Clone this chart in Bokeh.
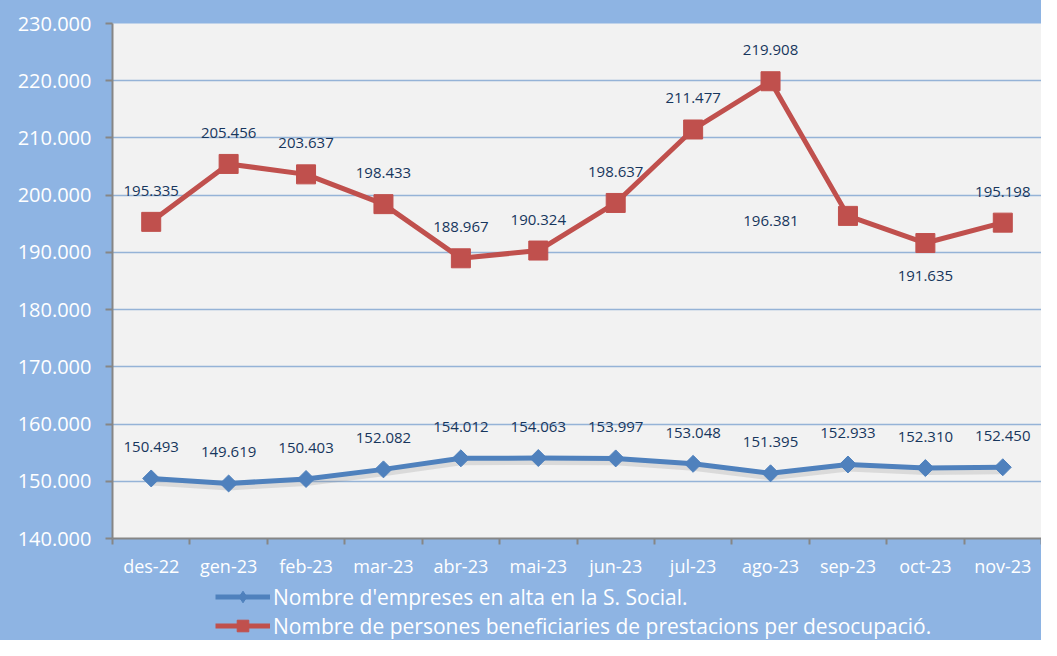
from bokeh.plotting import figure
from bokeh.layouts import column
from bokeh.models import ColumnDataSource, FixedTicker, Legend, LegendItem, Range1d
from bokeh.core.properties import value
from bokeh.embed import file_html
from bokeh.resources import INLINE
import math

# ---- data ----
months = ["des-22", "gen-23", "feb-23", "mar-23", "abr-23", "mai-23",
          "jun-23", "jul-23", "ago-23", "sep-23", "oct-23", "nov-23"]
empreses = [150493, 149619, 150403, 152082, 154012, 154063,
            153997, 153048, 151395, 152933, 152310, 152450]
beneficiaris = [195335, 205456, 203637, 198433, 188967, 190324,
                198637, 211477, 219908, 196381, 191635, 195198]
y_ticks = [140000, 150000, 160000, 170000, 180000, 190000,
           200000, 210000, 220000, 230000]
name_blue = "Nombre d'empreses en alta en la S. Social."
name_red = "Nombre de persones beneficiaries de prestacions per desocupació."

# ---- label placement (pixels, style only) ----
blue_dx = [0] * 12
blue_dy = [-31] * 12
red_dx = [0, 0, 0, 0, 0, 0, 0, 0, 0, -77, 0, 0]
red_dy = [-31, -31, -31, -31, -31, -31, -31, -31, -31, 5, 33, -31]


def fmt(v):
    return f"{v:,}".replace(",", ".")


FONT = "Open Sans"
BG = "#8EB4E3"
BLUE = "#4F81BD"
RED = "#C0504D"
LABEL = "#17365D"

xs = [i + 0.5 for i in range(len(months))]

blue_src = ColumnDataSource(dict(x=xs, y=empreses, lbl=[fmt(v) for v in empreses],
                                 dx=blue_dx, dy=blue_dy,
                                 ysh=[v - 600 for v in empreses]))
red_src = ColumnDataSource(dict(x=xs, y=beneficiaris, lbl=[fmt(v) for v in beneficiaris],
                                dx=red_dx, dy=red_dy))

p = figure(width=1041, height=582, output_backend="svg", toolbar_location=None,
           x_range=Range1d(0, len(months)), y_range=Range1d(140000, 230000),
           background_fill_color="#F2F2F2", border_fill_color=BG,
           min_border_left=112, min_border_top=23, min_border_bottom=44,
           min_border_right=0)
p.outline_line_color = None

# axes
p.yaxis.ticker = FixedTicker(ticks=y_ticks)
p.yaxis.major_label_overrides = {t: fmt(t) for t in y_ticks}
p.yaxis.major_label_text_color = "white"
p.yaxis.major_label_text_font = FONT
p.yaxis.major_label_text_font_size = "20px"
p.yaxis.major_label_standoff = 14
p.yaxis.major_tick_out = 7
p.yaxis.major_tick_in = 0
p.yaxis.minor_tick_out = 0
p.yaxis.minor_tick_in = 0
p.yaxis.axis_line_color = "#868686"
p.yaxis.axis_line_width = 2
p.yaxis.major_tick_line_color = "#868686"
p.yaxis.major_tick_line_width = 2

p.xaxis.ticker = FixedTicker(ticks=xs, minor_ticks=list(range(len(months) + 1)))
p.xaxis.major_label_overrides = {x: m for x, m in zip(xs, months)}
p.xaxis.major_label_text_color = "white"
p.xaxis.major_label_text_font = FONT
p.xaxis.major_label_text_font_size = "18px"
p.xaxis.major_label_standoff = 9
p.xaxis.major_tick_out = 0
p.xaxis.major_tick_in = 0
p.xaxis.minor_tick_out = 6
p.xaxis.minor_tick_in = 0
p.xaxis.minor_tick_line_color = "#868686"
p.xaxis.minor_tick_line_width = 2
p.xaxis.axis_line_color = "#868686"
p.xaxis.axis_line_width = 2

p.xgrid.grid_line_color = None
p.ygrid.grid_line_color = "#95B3D7"
p.ygrid.grid_line_width = 1.5

# blue series shadow
p.line("x", "ysh", source=blue_src, line_color="#7F7F7F", line_alpha=0.2,
       line_width=7, line_join="round")

# series
p.line("x", "y", source=blue_src, line_color=BLUE, line_width=5, line_join="round")
p.scatter("x", "y", source=blue_src, marker="square", size=12, angle=math.pi / 4,
          fill_color=BLUE, line_color=BLUE)
p.line("x", "y", source=red_src, line_color=RED, line_width=5, line_join="round")
p.scatter("x", "y", source=red_src, marker="square", size=19,
          fill_color=RED, line_color=RED)

# data labels
for src in (blue_src, red_src):
    p.text("x", "y", text="lbl", source=src, x_offset="dx", y_offset="dy",
           text_align="center", text_baseline="middle", text_color=LABEL,
           text_font=value(FONT), text_font_size="15px")

# ---- legend strip below the chart (series re-plotted outside its visible range) ----
leg = figure(width=1041, height=58, output_backend="svg", toolbar_location=None,
             x_range=Range1d(0, 1), y_range=Range1d(0, 1),
             x_axis_type=None, y_axis_type=None,
             background_fill_alpha=0, border_fill_color=BG,
             min_border_left=0, min_border_right=0, min_border_top=0,
             min_border_bottom=0)
leg.outline_line_color = None
lbl_line = leg.line("x", "y", source=blue_src, line_color=BLUE, line_width=5)
lbl_mark = leg.scatter("x", "y", source=blue_src, marker="diamond", size=14,
                       fill_color=BLUE, line_color=BLUE)
lrd_line = leg.line("x", "y", source=red_src, line_color=RED, line_width=5)
lrd_mark = leg.scatter("x", "y", source=red_src, marker="square", size=13,
                       fill_color=RED, line_color=RED)

legend = Legend(items=[LegendItem(label=name_blue, renderers=[lbl_line, lbl_mark]),
                       LegendItem(label=name_red, renderers=[lrd_line, lrd_mark])],
                location=(103, 0), orientation="vertical",
                background_fill_alpha=0, border_line_color=None,
                label_text_color="white", label_text_font=FONT,
                label_text_font_size="21px", glyph_width=55, glyph_height=29,
                label_height=29, label_standoff=3, spacing=0, padding=0, margin=0)
leg.add_layout(legend, "center")

layout = column(p, leg, spacing=0, styles={"background-color": BG})
open("out.html", "w").write(file_html(layout, INLINE))
